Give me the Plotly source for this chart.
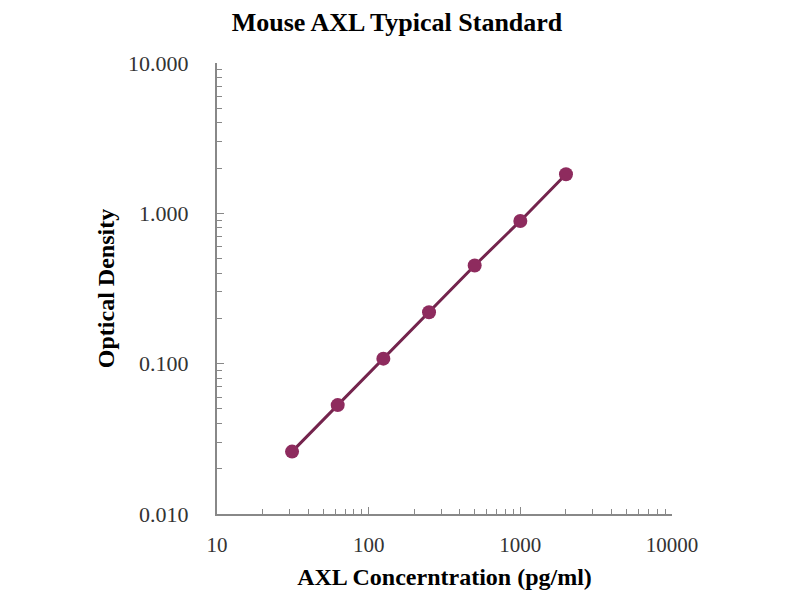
import plotly.graph_objects as go

# standard curve
conc = [31.25, 62.5, 125, 250, 500, 1000, 2000]
od = [0.026, 0.053, 0.108, 0.22, 0.45, 0.89, 1.82]

x_ticks = [10, 100, 1000, 10000]
x_labels = ['10', '100', '1000', '10000']
y_ticks = [0.01, 0.1, 1, 10]
y_labels = ['0.010', '0.100', '1.000', '10.000']

serif = 'Liberation Serif, Times New Roman, serif'

# the page puts the figure 8px in from the corner, so it is a bit smaller than the window
W, H = 792, 592

fig = go.Figure()

fig.add_trace(go.Scatter(
	x = conc,
	y = od,
	mode = 'lines+markers',
	line = dict(color = '#74244D', width = 3),
	marker = dict(color = '#8E2B5E', size = 14),
	showlegend = False
))

fig.update_layout(
	width = W,
	height = H,
	paper_bgcolor = 'white',
	plot_bgcolor = 'white',
	margin = dict(l = 209, r = 128, t = 55, b = 86),
	title = dict(
		text = '<b>Mouse AXL Typical Standard</b>',
		x = 389 / W, xanchor = 'center', xref = 'container',
		y = 1, yanchor = 'top', yref = 'container',
		pad = dict(t = 5),
		font = dict(family = serif, size = 26, color = 'black')
	),
	font = dict(family = serif, color = '#333333')
)

fig.update_xaxes(
	type = 'log',
	range = [1, 4],
	tickvals = x_ticks,
	ticktext = x_labels,
	ticks = 'inside',
	ticklen = 7,
	tickcolor = '#888888',
	tickfont = dict(size = 21),
	ticklabelstandoff = 11,
	showline = True,
	linecolor = '#888888',
	linewidth = 2,
	showgrid = False,
	zeroline = False,
	minor = dict(ticks = 'inside', ticklen = 5, tickcolor = '#888888', dtick = 'D1', showgrid = False),
	title = dict(text = '<b>AXL Concerntration (pg/ml)</b>', font = dict(size = 24, color = 'black'), standoff = 12)
)

fig.update_yaxes(
	type = 'log',
	range = [-2, 1],
	tickvals = y_ticks,
	ticktext = y_labels,
	ticks = 'inside',
	ticklen = 7,
	tickcolor = '#888888',
	tickfont = dict(size = 22),
	ticklabelstandoff = 22,
	showline = True,
	linecolor = '#888888',
	linewidth = 2,
	showgrid = False,
	zeroline = False,
	minor = dict(ticks = 'inside', ticklen = 5, tickcolor = '#888888', dtick = 'D1', showgrid = False),
	title = dict(text = '<b>Optical Density</b>', font = dict(size = 24, color = 'black'), standoff = 7)
)

fig.write_html('out.html')
